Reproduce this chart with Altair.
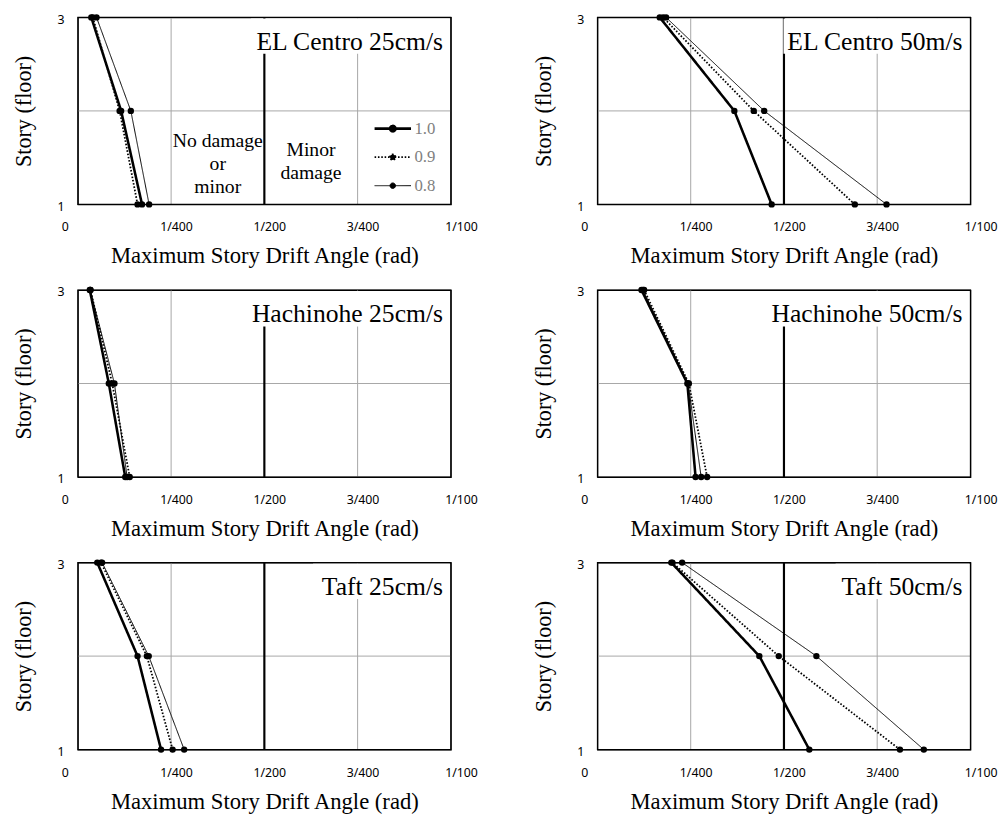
import json
import altair as alt
import pandas as pd

# ---------------- data ----------------
panel_titles = ["EL Centro 25cm/s", "EL Centro 50m/s", "Hachinohe 25cm/s",
                "Hachinohe 50cm/s", "Taft 25cm/s", "Taft 50cm/s"]
stories = [1, 2, 3]
series_names = ["1.0", "0.9", "0.8"]

# maximum story drift angle (rad) for stories 1, 2, 3
el_centro_25 = {"1.0": [0.00172, 0.00116, 0.00036],
                "0.9": [0.00160, 0.00112, 0.00040],
                "0.8": [0.00191, 0.00142, 0.00050]}
el_centro_50 = {"1.0": [0.00467, 0.00367, 0.00167],
                "0.9": [0.00690, 0.00419, 0.00176],
                "0.8": [0.00775, 0.00447, 0.00184]}
hachinohe_25 = {"1.0": [0.00127, 0.00083, 0.00032],
                "0.9": [0.00139, 0.00092, 0.00034],
                "0.8": [0.00132, 0.00098, 0.00033]}
hachinohe_50 = {"1.0": [0.00263, 0.00241, 0.00118],
                "0.9": [0.00294, 0.00245, 0.00125],
                "0.8": [0.00278, 0.00243, 0.00122]}
taft_25 = {"1.0": [0.00223, 0.00160, 0.00052],
           "0.9": [0.00254, 0.00185, 0.00062],
           "0.8": [0.00285, 0.00190, 0.00065]}
taft_50 = {"1.0": [0.00568, 0.00434, 0.00198],
           "0.9": [0.00811, 0.00486, 0.00201],
           "0.8": [0.00875, 0.00587, 0.00227]}
panel_data = [el_centro_25, el_centro_50, hachinohe_25,
              hachinohe_50, taft_25, taft_50]

tick_values = [0, 0.0025, 0.005, 0.0075, 0.01]
tick_labels = ["0", "1/400", "1/200", "3/400", "1/100"]
grid_x_values = [0.0025, 0.0075]
grid_y_values = [2]
damage_limit = 0.005
zone_texts = ["No damage\nor\nminor", "Minor\ndamage"]
zone_x = [0.00375, 0.00625]
zone_story = [1.68, 1.58]

# ---------------- style ----------------
W, H = 379, 190
SERIF = "Liberation Serif"
SANS = "Noto Sans"
GRID = "#a6a6a6"
title_box_widths = [203, 190, 207, 212, 140, 137]

label_expr = "{}[indexof({}, datum.value)]".format(json.dumps(tick_labels),
                                                   json.dumps(tick_values))

x_axis = alt.Axis(values=tick_values, labelExpr=label_expr, grid=False,
                  domain=False, ticks=False, labelFont=SANS, labelFontSize=12.5,
                  labelColor="black", labelPadding=17, labelFlush=True,
                  labelFlushOffset=22, labelOffset=5, labelOverlap=False,
                  title="Maximum Story Drift Angle (rad)", titleFont=SERIF,
                  titleFontSize=23, titleFontWeight="normal", titleColor="black",
                  titlePadding=12)
y_axis = alt.Axis(values=stories, format="d", grid=False, domain=False,
                  ticks=False, labelFont=SANS, labelFontSize=12.5,
                  labelColor="black", labelPadding=14, labelOffset=2,
                  title="Story (floor)", titleFont=SERIF, titleFontSize=22.5,
                  titleFontWeight="normal", titleColor="black", titlePadding=22)
x_scale = alt.Scale(domain=[0, 0.01], nice=False, zero=False)
y_scale = alt.Scale(domain=[1, 3], nice=False, zero=False)


def X(field="drift"):
    return alt.X(f"{field}:Q", scale=x_scale, axis=x_axis)


def Y(field="story"):
    return alt.Y(f"{field}:Q", scale=y_scale, axis=y_axis)


def make_panel(i):
    data = panel_data[i]
    rows = []
    for s in series_names:
        for st, v in zip(stories, data[s]):
            rows.append({"series": s, "story": st, "drift": v})
    df = pd.DataFrame(rows)

    if i == 0:
        leg = alt.Legend(title=None, orient="none", legendX=300, legendY=104,
                         symbolType="M-1,0H1M-0.15,0A0.15,0.15 0 1,1 0.15,0A0.15,0.15 0 1,1 -0.15,0Z",
                         symbolSize=1369, symbolStrokeColor="black",
                         symbolFillColor="black",
                         clipHeight=18, rowPadding=11, labelOffset=2, padding=0,
                         labelFont=SERIF, labelFontSize=17, labelColor="#808080")
    else:
        leg = None

    grid_v = alt.Chart(pd.DataFrame({"drift": grid_x_values})).mark_rule(
        color=GRID, strokeWidth=1).encode(x=X())
    grid_h = alt.Chart(pd.DataFrame({"story": grid_y_values})).mark_rule(
        color=GRID, strokeWidth=1).encode(y=Y())
    limit = alt.Chart(pd.DataFrame({"drift": [damage_limit]})).mark_rule(
        color="black", strokeWidth=2.2).encode(x=X())
    tdf = pd.DataFrame({"title": [panel_titles[i]]})
    box = alt.Chart(tdf).mark_rect(fill="white").encode(
        x=alt.value(W - title_box_widths[i]), x2=alt.value(W - 1),
        y=alt.value(1), y2=alt.value(37))
    ttl = alt.Chart(tdf).mark_text(align="right", baseline="alphabetic",
                                   font=SERIF, fontSize=26, color="black").encode(
        x=alt.value(W - 8), y=alt.value(33), text="title:N")
    frame = alt.Chart(tdf).mark_rect(filled=False, stroke="black",
                                     strokeWidth=1.2).encode(
        x=alt.value(0), x2=alt.value(W), y=alt.value(0), y2=alt.value(H))
    lines = alt.Chart(df).mark_line(color="black").encode(
        x=X(), y=Y(), order="story:Q",
        strokeDash=alt.StrokeDash("series:O",
                                  scale=alt.Scale(domain=series_names,
                                                  range=[[1, 0], [1.6, 1.8], [1, 0]]),
                                  legend=leg),
        strokeWidth=alt.StrokeWidth("series:O",
                                    scale=alt.Scale(type="point", domain=series_names,
                                                    range=[2.6, 1], padding=0),
                                    legend=leg))
    points = alt.Chart(df).mark_circle(size=42, color="black", opacity=1).encode(
        x=X(), y=Y())
    layers = [grid_v, grid_h, limit, box, ttl]
    if i == 0:
        zdf = pd.DataFrame({"drift": zone_x, "story": zone_story, "txt": zone_texts})
        zones = alt.Chart(zdf).mark_text(font=SERIF, fontSize=20, lineBreak="\n",
                                         lineHeight=23.5, color="black",
                                         baseline="middle").encode(
            x=X(), y=Y(), text="txt:N")
        layers.append(zones)
    layers += [frame, lines, points]
    return alt.layer(*layers).properties(width=W, height=H)


chart = alt.concat(*[make_panel(i) for i in range(6)], columns=2,
                   spacing=alt.RowColnumber(row=87, column=149),
                   bounds="flush").resolve_scale(
    strokeDash="independent", strokeWidth="independent"
).properties(
    padding={"left": 4, "top": -3, "right": 0, "bottom": 0},
    background="white"
).configure_view(stroke="black", strokeWidth=1.2)

chart.save("out.html", embed_options={"renderer": "svg", "actions": False})
